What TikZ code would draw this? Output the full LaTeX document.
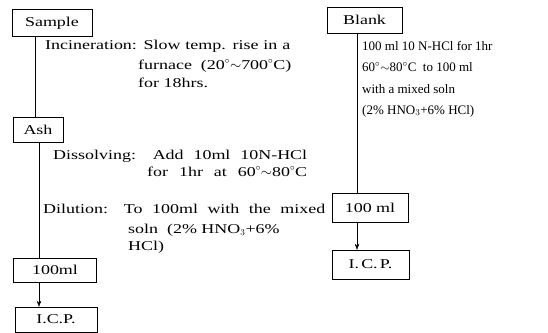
\documentclass[tikz,border=0pt]{standalone}
\usepackage{fontspec}
\setmainfont{Liberation Serif}
\newfontfamily\widefont{Liberation Serif}[FakeStretch=1.33]
\usetikzlibrary{positioning,calc,arrows.meta}
\tikzset{
    box/.style={draw=black, rectangle, thin, inner sep=0pt,
                minimum height=25pt, sharp corners,
                font=\widefont\fontsize{13.5}{15}\selectfont},
    note/.style={inner sep=0pt, anchor=base west,
                 font=\widefont\fontsize{13.5}{15}\selectfont},
    blanknote/.style={inner sep=0pt, anchor=base west,
                      font=\fontsize{13}{15}\selectfont},
    % Arrow styles
    flow/.style={thin},
    signal/.style={-{Stealth[length=6pt,width=4.5pt]}, thin}
}
\newcommand{\degr}{$^\circ$}
\newcommand{\fromto}{$\sim$}

\begin{document}
\begin{tikzpicture}[x=1pt, y=-1pt]
            \useasboundingbox (0,0) rectangle (548,332);

            % Sample branch
            \node[box, minimum width=80pt, minimum height=27pt] (sample) at (52,23) {Sample};
            \node[box, minimum width=50pt] (ash) at (38,129.5) {Ash};
            \node[box, minimum width=83pt, minimum height=24pt] (ml) at (55,270) {100ml};
            \node[box, minimum width=82pt] (icp) at (56,319.5) {I.C.P.};
            \coordinate (lineA) at (35,0);
            \coordinate (lineB) at (39,0);

            % Blank branch
            \node[box, minimum width=75pt, minimum height=26pt] (blank) at (364.5,20) {Blank};
            \node[box, minimum width=76pt, minimum height=29pt] (blankml) at (370,207.5) {100 ml};
            \node[box, minimum width=77pt, minimum height=29pt] (blankicp) at (370.5,264.5) {I.\,C.\,P.};
            \coordinate (lineC) at (357,0);

            % Step notes
            \node[note] (incin) at (45,49) {\makebox[245pt][s]{Incineration: Slow temp. rise in a}};
            \node[note] (incin2) at (138,69) {furnace \ (20\degr\fromto700\degr C)};
            \node[note] (incin3) at (138,87) {for 18hrs.};
            \node[note] (diss) at (53,159) {\makebox[254pt][s]{Dissolving: Add 10ml 10N-HCl}};
            \node[note] (diss2) at (147,176) {\makebox[160pt][s]{for 1hr at 60\degr\fromto80\degr C}};
            \node[note] (dil) at (43,213) {\makebox[282pt][s]{Dilution: To 100ml with the mixed}};
            \node[note] (dil2) at (128,233) {soln \ (2\% HNO$_3$+6\%};
            \node[note] (dil3) at (128,250) {HCl)};

            \node[blanknote] (bnote) at (362,50) {100 ml 10 N-HCl for 1hr};
            \node[blanknote] (bnote2) at (362,71) {60\degr\fromto80\degr C \ to 100 ml};
            \node[blanknote] (bnote3) at (362,93) {with a mixed soln};
            \node[blanknote] (bnote4) at (362,114) {(2\% HNO$_3$+6\% HCl)};

            % Flow lines
            \draw[flow] (sample.south -| lineA) -- (ash.north -| lineA);
            \draw[flow] (ash.south -| lineB) -- (ml.north -| lineB);
            \draw[signal] (ml.south -| lineB) -- (icp.north -| lineB);
            \draw[flow] (blank.south -| lineC) -- (blankml.north -| lineC);
            \draw[signal] (blankml.south -| lineC) -- (blankicp.north -| lineC);
        \end{tikzpicture}
\end{document}
